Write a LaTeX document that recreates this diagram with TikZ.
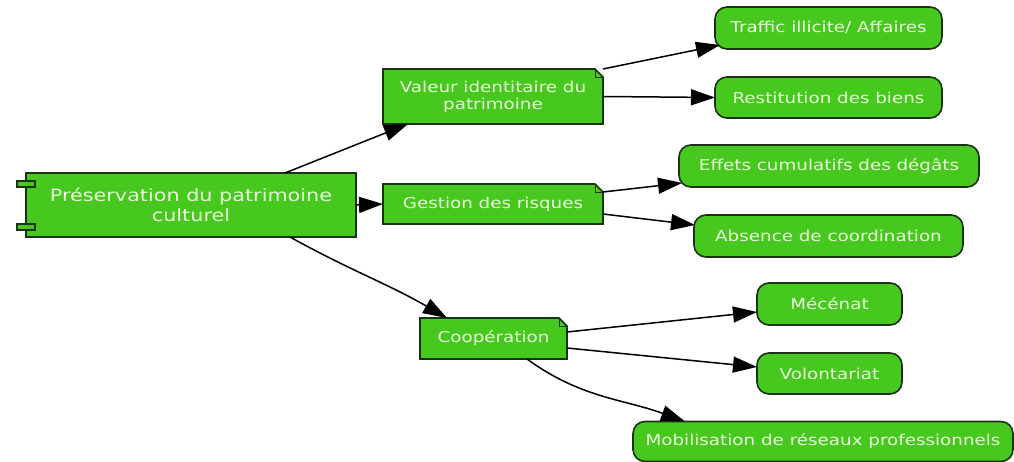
\documentclass[tikz,border=0pt]{standalone}
\usepackage{fontspec}
\newfontfamily\nodefont[FakeStretch=1.22]{DejaVu Sans}
\usetikzlibrary{arrows.meta,calc,backgrounds}
\definecolor{boxgreen}{RGB}{70,200,30}
\definecolor{boxline}{RGB}{25,50,15}
\definecolor{boxtext}{RGB}{232,255,218}
\begin{document}
\begin{tikzpicture}[x=1pt,y=-1pt,
  base/.style={fill=boxgreen, draw=boxline, line width=1.6pt, text=boxtext,
    font=\nodefont\fontsize{15}{17}\selectfont, inner sep=0pt, outer sep=0pt, align=center},
  leaf/.style={base, rounded corners=12pt},
  notebox/.style={base, draw=none, fill=none},
  notefill/.style={fill=boxgreen, draw=boxline, line width=1.6pt},
  compbox/.style={base, font=\nodefont\fontsize{17}{20}\selectfont},
  pin/.style={fill=boxgreen, draw=boxline, line width=1.2pt},
  edge/.style={draw=black, line width=1.5pt, -{Triangle[length=24pt,width=16pt]}}
]
\useasboundingbox (0,0) rectangle (1014,462);

% root component
\node[compbox, minimum width=330pt, minimum height=64pt] (root) at (191,205) {Préservation du patrimoine\\culturel};
\draw[pin] ($(root.north west)+(-9,8)$) rectangle ++(18,6);
\draw[pin] ($(root.south west)+(-9,-13)$) rectangle ++(18,6);

% notes
\node[notebox, minimum width=220pt, minimum height=55pt] (val) at (493,96.5) {Valeur identitaire du\\patrimoine};
\node[notebox, minimum width=220pt, minimum height=40pt] (gest) at (493,204) {Gestion des risques};
\node[notebox, minimum width=147pt, minimum height=41pt] (coop) at (493.5,338.5) {Coopération};

\begin{scope}[on background layer]
\foreach \n in {val,gest,coop}{
  \draw[notefill] (\n.south west) -- (\n.north west) -- ([xshift=-8pt]\n.north east)
     -- ([yshift=-8pt]\n.north east) -- (\n.south east) -- cycle;
  \draw[line width=0.8pt, draw=boxline] ([xshift=-8pt]\n.north east) -- ([xshift=-8pt,yshift=-8pt]\n.north east) -- ([yshift=-8pt]\n.north east);
}
\end{scope}

% leaves
\node[leaf, minimum width=227pt, minimum height=42pt] (traf) at (828.5,28) {Traffic illicite/ Affaires};
\node[leaf, minimum width=227pt, minimum height=41pt] (rest) at (828.5,97.5) {Restitution des biens};
\node[leaf, minimum width=300pt, minimum height=42pt] (eff) at (829,166) {Effets cumulatifs des dégâts};
\node[leaf, minimum width=269pt, minimum height=42pt] (abs) at (828.5,236) {Absence de coordination};
\node[leaf, minimum width=145pt, minimum height=42pt] (mec) at (829.5,304) {Mécénat};
\node[leaf, minimum width=145pt, minimum height=41pt] (vol) at (829.5,373.5) {Volontariat};
\node[leaf, minimum width=380pt, minimum height=40pt] (mob) at (823,441.5) {Mobilisation de réseaux professionnels};

% edges from root
\draw[edge] ($(root.north west)+(259,0)$) -- ($(val.south west)+(25,0)$);
\draw[edge] (root.east) -- (gest.west);
\draw[edge] ($(root.south west)+(264,0)$) to[out=-29,in=150] ($(coop.north west)+(27,0)$);

% edges from notes
\draw[edge] (val.north east) -- ($(traf.south west)+(5,-4)$);
\draw[edge] (val.east) -- (rest.west);
\draw[edge] ($(gest.north east)+(0,8)$) -- ($(eff.south west)+(3,-4)$);
\draw[edge] ($(gest.south east)+(0,-10)$) -- ($(abs.north west)+(1,10)$);
\draw[edge] ($(coop.north east)+(0,14)$) -- ($(mec.south west)+(0,-13)$);
\draw[edge] ($(coop.south east)+(0,-11)$) -- ($(vol.north west)+(0,14)$);
\draw[edge] ($(coop.south west)+(107,0)$) to[out=-36,in=160] ($(mob.north west)+(52,0)$);
\end{tikzpicture}
\end{document}
